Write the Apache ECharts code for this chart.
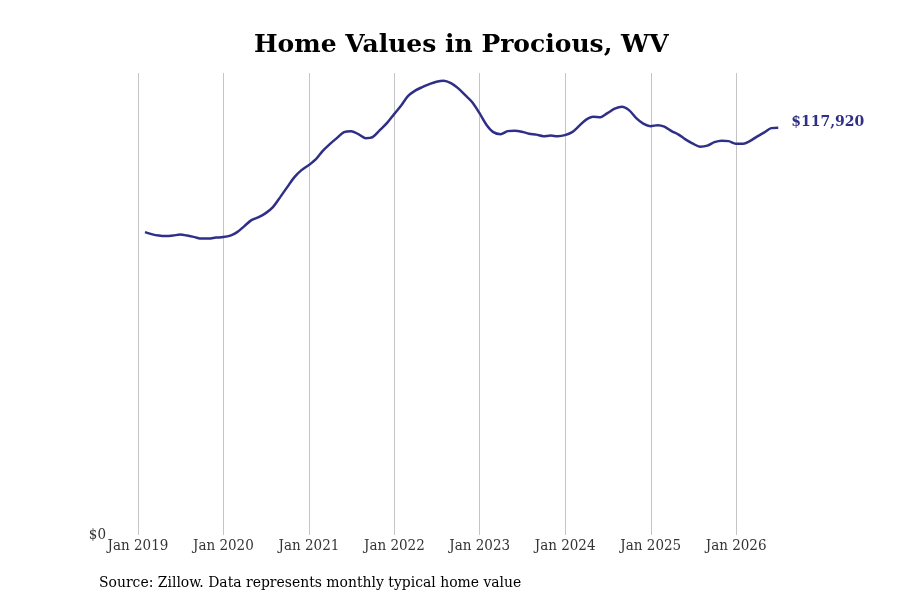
<!DOCTYPE html>
<html lang="en">

<head>
  <meta charset="UTF-8">
  <title>Home Values in Procious, WV</title>
  <script src="https://cdn.jsdelivr.net/npm/echarts@6/dist/echarts.min.js"></script>
  <style>
    html, body { margin: 0; padding: 0; background: #fff; }
    #chart { width: 900px; height: 600px; }
  </style>
</head>

<body>
  <div id="chart"></div>
  <script>
    // monthly typical home value, month-end dates, Jan 2019 .. Jun 2026
    var startYear = 2019;
    var values2019 = [87690, 87110, 86680, 86530, 86680, 86970, 86680, 86240, 85810, 85810, 86100, 86240];
    var values2020 = [86680, 87690, 89430, 91160, 92030, 93190, 94920, 97820, 100710, 103610, 105630, 107080];
    var values2021 = [108810, 111130, 113160, 114890, 116630, 116920, 116050, 114890, 115180, 117210, 119230, 121840];
    var values2022 = [124440, 127050, 128640, 129650, 130520, 131240, 131530, 130810, 129360, 127340, 125310, 122130];
    var values2023 = [118650, 116630, 116050, 116920, 117060, 116770, 116190, 115910, 115470, 115620, 115470, 115760];
    var values2024 = [116630, 118370, 120250, 121110, 120970, 122130, 123430, 124010, 123000, 120680, 119090, 118370];
    var values2025 = [118650, 118220, 116920, 115910, 114460, 113300, 112430, 112720, 113730, 114170, 114020, 113300];
    var values2026 = [113300, 114020, 115330, 116480, 117790, 117920];

    var allValues = [].concat(values2019, values2020, values2021, values2022,
      values2023, values2024, values2025, values2026);

    // pair each value with the last day of its month
    var seriesData = allValues.map(function (v, i) {
      var y = startYear + Math.floor(i / 12);
      var m = i % 12;
      var d = new Date(Date.UTC(y, m + 1, 0));
      return [d.getUTCFullYear() + '-' + (m + 1) + '-' + d.getUTCDate(), v];
    });

    var lineColor = '#2f2f88';
    var serif = "'DejaVu Serif Condensed', 'DejaVu Serif', serif";
    var YEAR = 365 * 24 * 3600 * 1000;

    var chart = echarts.init(document.getElementById('chart'));
    var option = {
      animation: false,
      backgroundColor: '#fff',
      title: [{
        text: 'Home Values in Procious, WV',
        left: 249,
        top: 28,
        textStyle: {
          fontFamily: "'DejaVu Serif', serif",
          fontWeight: 'bold',
          fontSize: 25,
          color: '#000'
        }
      }, {
        text: 'Source: Zillow. Data represents monthly typical home value',
        left: 94,
        top: 570,
        textStyle: {
          fontFamily: serif,
          fontWeight: 'normal',
          fontSize: 15.5,
          color: '#000'
        }
      }],
      grid: {
        left: 112,
        right: 100,
        top: 73,
        bottom: 65
      },
      xAxis: {
        type: 'time',
        min: '2018-09-12',
        max: '2026-10-01',
        minInterval: YEAR,
        maxInterval: YEAR * 1.01,
        axisLine: { show: false },
        axisTick: { show: false },
        splitLine: {
          show: true,
          showMinLine: false,
          showMaxLine: false,
          lineStyle: { color: '#c4c4c4', width: 1 }
        },
        axisLabel: {
          formatter: '{MMM} {yyyy}',
          margin: 4,
          fontFamily: serif,
          fontSize: 15,
          color: '#333',
          hideOverlap: false
        }
      },
      yAxis: {
        type: 'value',
        min: 0,
        max: 133750,
        interval: 133750,
        axisLine: { show: false },
        axisTick: { show: false },
        splitLine: { show: false },
        axisLabel: {
          margin: 6,
          fontFamily: serif,
          fontSize: 15,
          color: '#333',
          formatter: function (v) { return v === 0 ? '$0' : ''; }
        }
      },
      series: [{
        type: 'line',
        data: seriesData,
        smooth: 0.3,
        showSymbol: false,
        lineStyle: { color: lineColor, width: 2.5 },
        endLabel: {
          show: true,
          distance: 13,
          offset: [0, -5],
          fontFamily: "'DejaVu Serif', serif",
          fontWeight: 'bold',
          fontSize: 14,
          color: lineColor,
          formatter: function (p) {
            return '$' + p.value[1].toLocaleString('en-US');
          }
        }
      }]
    };
    chart.setOption(option);
  </script>
</body>

</html>
